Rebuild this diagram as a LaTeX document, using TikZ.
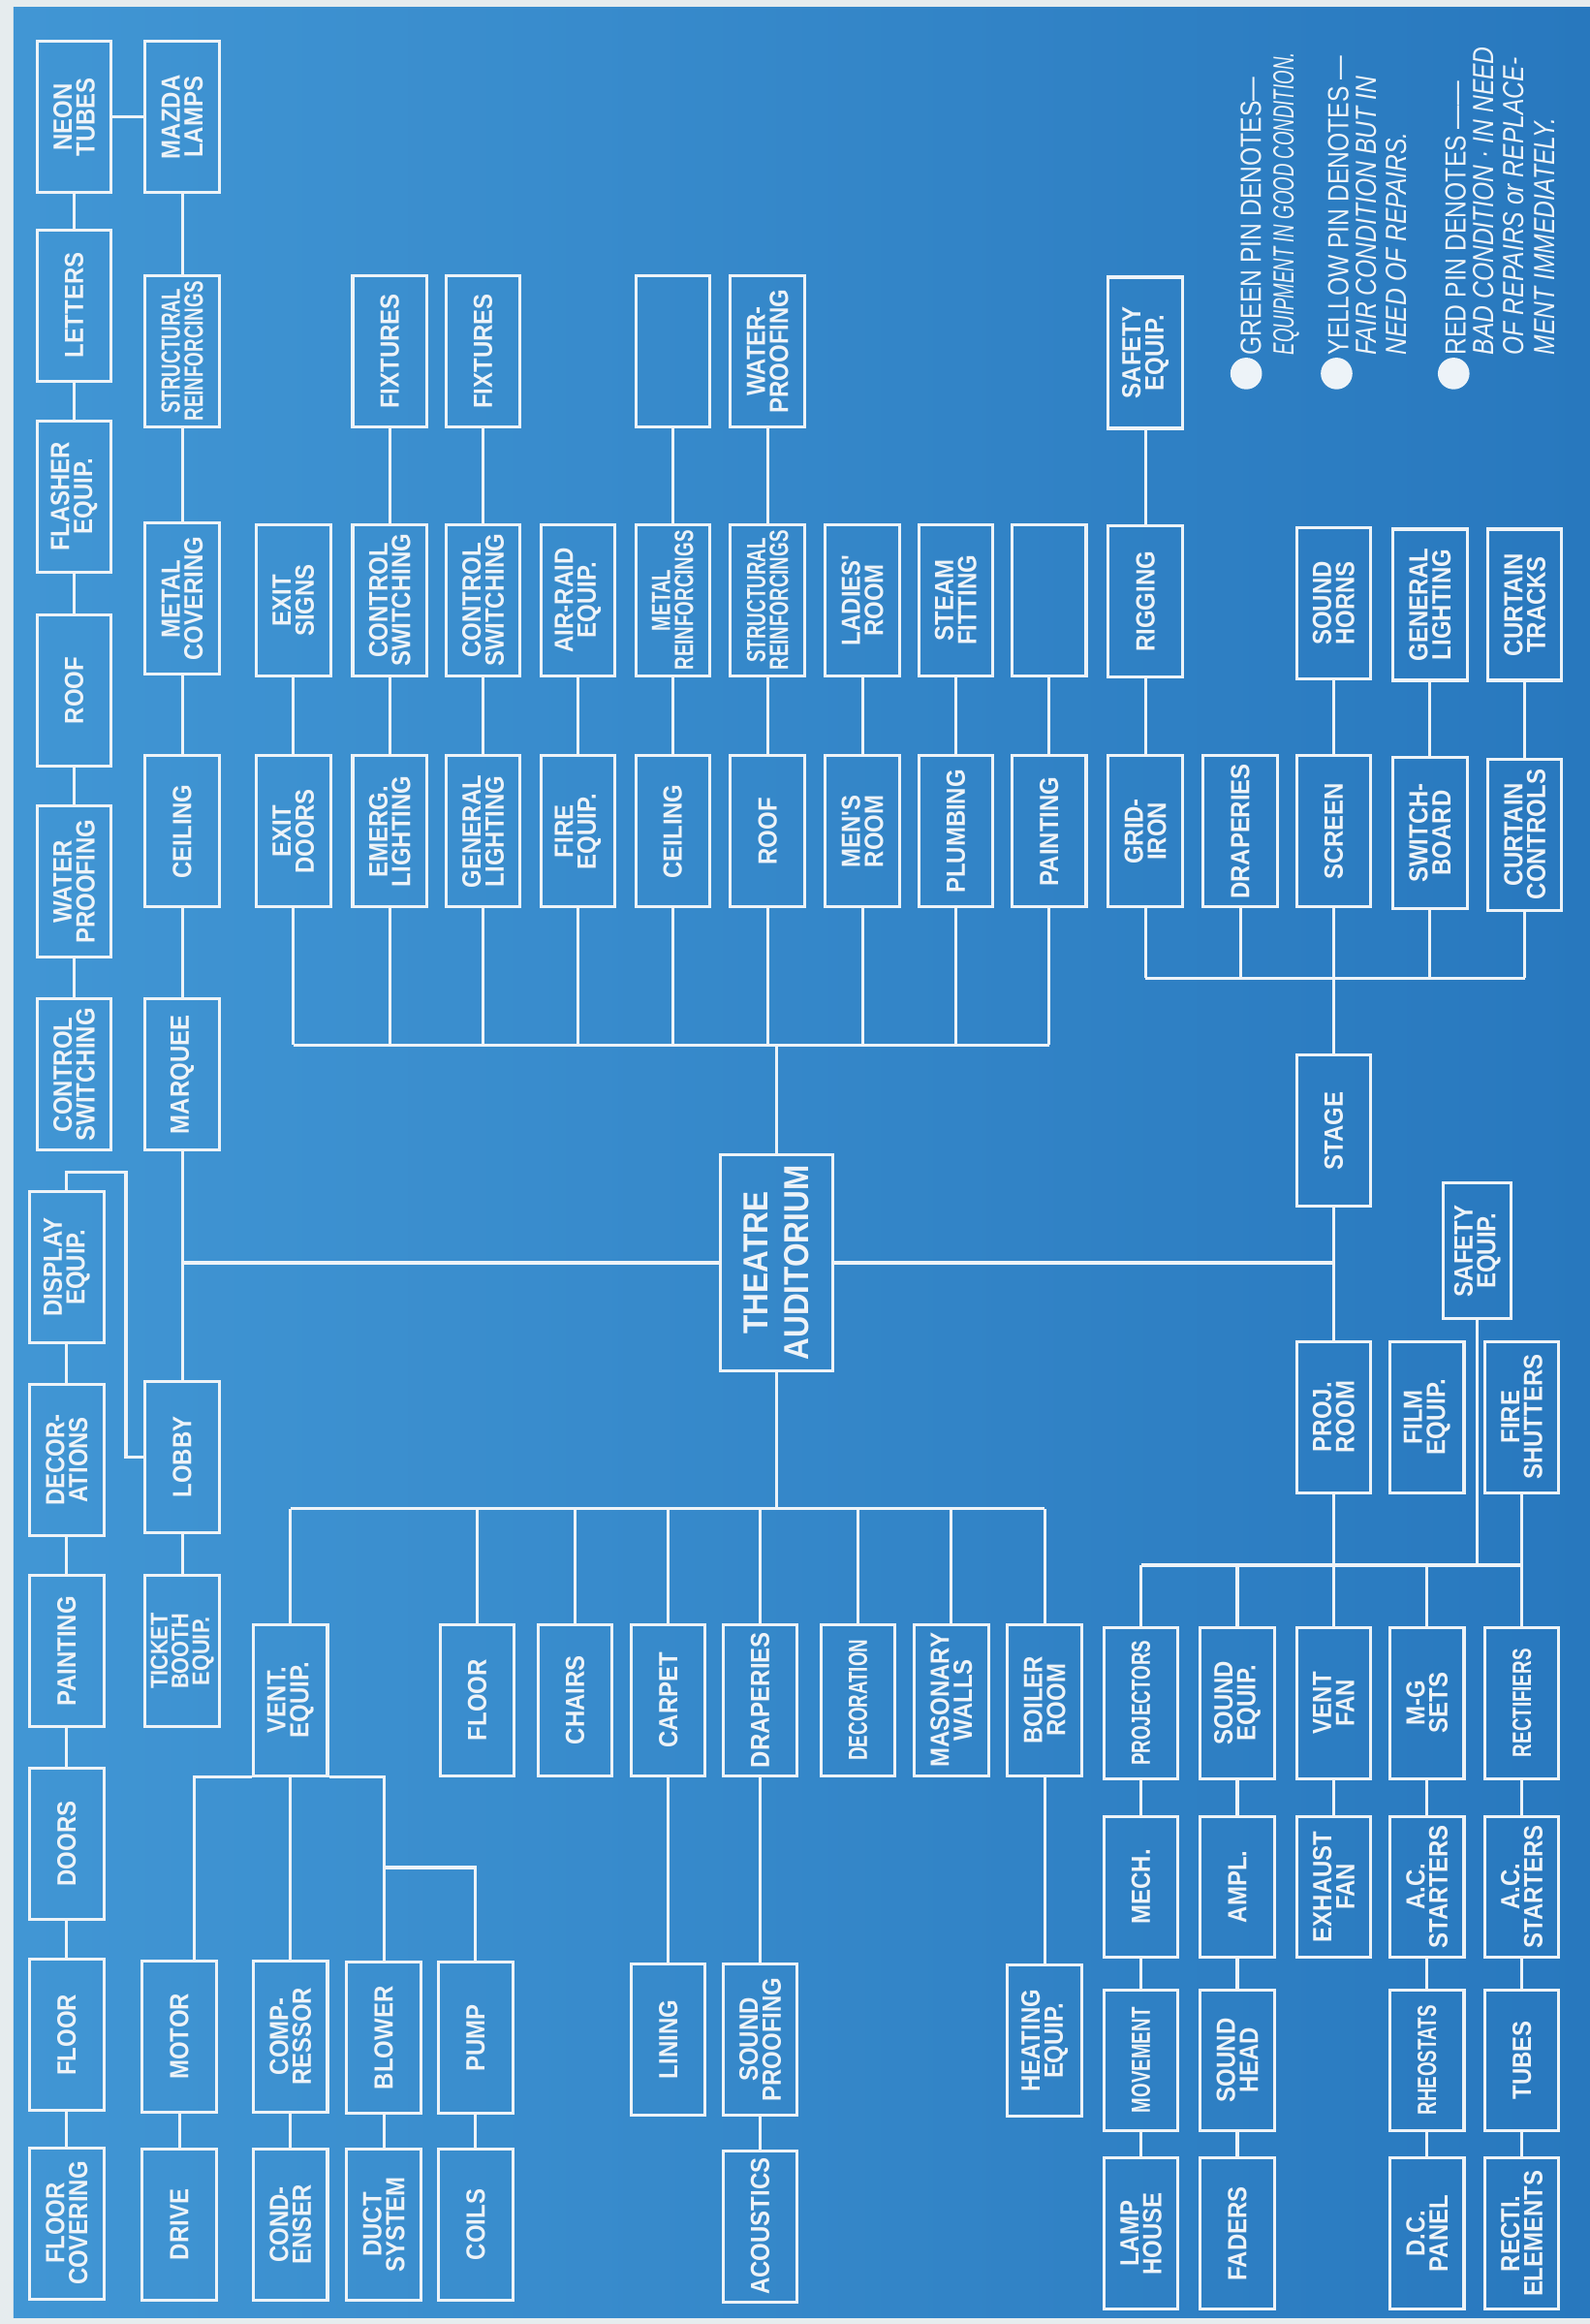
\documentclass[tikz,border=0pt]{standalone}
\usepackage{fontspec}
\usetikzlibrary{calc}
\newfontfamily\boxfont[FakeStretch=0.88]{Liberation Sans}
\newfontfamily\narrowfont[FakeStretch=0.69]{Liberation Sans}
\newfontfamily\notefont[FakeStretch=0.82]{Liberation Sans}
\newfontfamily\squeezefont[FakeStretch=0.62]{Liberation Sans}
\definecolor{ink}{HTML}{EDF3F8}
\definecolor{bgleft}{HTML}{4196D4}
\definecolor{bgright}{HTML}{2878BE}
\definecolor{paper}{HTML}{E6ECEE}
\begin{document}
\begin{tikzpicture}[x=0.015cm, y=-0.015cm,
    block/.style={draw=ink, line width=0.85pt, rotate=90, minimum width=1.53cm, minimum height=0.75cm, inner sep=1pt, align=center, text=ink, font=\boxfont\bfseries\fontsize{7.6}{6.6}\selectfont},
    narrow/.style={font=\narrowfont\bfseries\fontsize{7.6}{6.6}\selectfont},
    shortbox/.style={minimum width=1.42cm},
    hub/.style={block, minimum width=2.18cm, minimum height=1.14cm, font=\boxfont\bfseries\fontsize{10}{11.5}\selectfont},
    link/.style={draw=ink, line width=0.85pt},
    pindot/.style={circle, fill=ink, inner sep=0pt, minimum size=0.32cm},
    notetext/.style={rotate=90, anchor=base west, inner sep=0pt, text=ink, font=\notefont\fontsize{8.4}{9}\selectfont},
    notesub/.style={notetext, font=\notefont\itshape\fontsize{8.4}{9}\selectfont}]
    \useasboundingbox (0,0) rectangle (1073,1568);
    \fill[paper] (0,0) rectangle (1073,1568);
    \shade[left color=bgleft, right color=bgright] (9,5) rectangle (1073,1564);

    \node [block] (neon) at (50,79) {NEON\\TUBES};
    \node [block] (letters) at (50,206) {LETTERS};
    \node [block] (flasher) at (50,335) {FLASHER\\EQUIP.};
    \node [block] (roofM) at (50,466) {ROOF};
    \node [block] (waterM) at (50,595) {WATER\\PROOFING};
    \node [block] (switchM) at (50,725) {CONTROL\\SWITCHING};
    \node [block] (display) at (45,855) {DISPLAY\\EQUIP.};
    \node [block] (decor) at (45,985) {DECOR-\\ATIONS};
    \node [block] (paintL) at (45,1114) {PAINTING};
    \node [block] (doors) at (45,1244) {DOORS};
    \node [block] (floorL) at (45,1373) {FLOOR};
    \node [block] (floorcov) at (45,1500) {FLOOR\\COVERING};

    \node [block] (mazda) at (123,79) {MAZDA\\LAMPS};
    \node [block, narrow] (structM) at (123,237) {STRUCTURAL\\REINFORCINGS};
    \node [block] (metalcov) at (123,404) {METAL\\COVERING};
    \node [block] (ceilM) at (123,561) {CEILING};
    \node [block] (marquee) at (123,725) {MARQUEE};
    \node [block] (lobby) at (123,983) {LOBBY};
    \node [block, font=\boxfont\bfseries\fontsize{6.9}{6}\selectfont] (ticket) at (123,1114) {TICKET\\BOOTH\\EQUIP.};
    \node [block] (motor) at (121,1374) {MOTOR};
    \node [block] (drive) at (121,1501) {DRIVE};

    \node [block] (exitsigns) at (198,405) {EXIT\\SIGNS};
    \node [block] (exitdoors) at (198,561) {EXIT\\DOORS};
    \node [block] (vent) at (196,1147) {VENT.\\EQUIP.};
    \node [block] (comp) at (196,1374) {COMP-\\RESSOR};
    \node [block] (cond) at (196,1501) {COND-\\ENSER};

    \node [block] (fixA) at (263,237) {FIXTURES};
    \node [block] (switchA) at (263,405) {CONTROL\\SWITCHING};
    \node [block] (emerg) at (263,561) {EMERG.\\LIGHTING};
    \node [block] (blower) at (259,1375) {BLOWER};
    \node [block] (duct) at (259,1501) {DUCT\\SYSTEM};

    \node [block] (fixB) at (326,237) {FIXTURES};
    \node [block] (switchB) at (326,405) {CONTROL\\SWITCHING};
    \node [block] (genlight) at (326,561) {GENERAL\\LIGHTING};
    \node [block] (floorA) at (322,1147) {FLOOR};
    \node [block] (pump) at (321,1375) {PUMP};
    \node [block] (coils) at (321,1501) {COILS};

    \node [block] (airraid) at (390,405) {AIR-RAID\\EQUIP.};
    \node [block] (fireeq) at (390,561) {FIRE\\EQUIP.};
    \node [block] (chairs) at (388,1147) {CHAIRS};

    \node [block] (blankA) at (454,237) {};
    \node [block, narrow] (metalre) at (454,405) {METAL\\REINFORCINGS};
    \node [block] (ceilA) at (454,561) {CEILING};
    \node [block] (carpet) at (451,1147) {CARPET};
    \node [block] (lining) at (451,1376) {LINING};

    \node [block] (waterA) at (518,237) {WATER-\\PROOFING};
    \node [block, narrow] (structA) at (518,405) {STRUCTURAL\\REINFORCINGS};
    \node [block] (roofA) at (518,561) {ROOF};
    \node [hub] (aud) at (524,852) {THEATRE\\AUDITORIUM};
    \node [block] (drapA) at (513,1147) {DRAPERIES};
    \node [block] (soundpr) at (513,1376) {SOUND\\PROOFING};
    \node [block] (acoustics) at (513,1502) {ACOUSTICS};

    \node [block] (ladies) at (582,405) {LADIES'\\ROOM};
    \node [block] (mens) at (582,561) {MEN'S\\ROOM};
    \node [block, narrow] (decoration) at (579,1147) {DECORATION};

    \node [block] (steam) at (645,405) {STEAM\\FITTING};
    \node [block] (plumbing) at (645,561) {PLUMBING};
    \node [block] (masonry) at (642,1147) {MASONARY\\WALLS};

    \node [block] (blankB) at (708,405) {};
    \node [block] (paintA) at (708,561) {PAINTING};
    \node [block] (boiler) at (705,1147) {BOILER\\ROOM};
    \node [block] (heating) at (705,1377) {HEATING\\EQUIP.};

    \node [block] (safetyA) at (773,238) {SAFETY\\EQUIP.};
    \node [block] (rigging) at (773,406) {RIGGING};
    \node [block] (gridiron) at (773,561) {GRID-\\IRON};
    \node [block] (drapB) at (837,561) {DRAPERIES};
    \node [block] (horns) at (900,407) {SOUND\\HORNS};
    \node [block] (screen) at (900,561) {SCREEN};
    \node [block] (stage) at (900,763) {STAGE};
    \node [block] (genlightB) at (965,408) {GENERAL\\LIGHTING};
    \node [block] (switchbd) at (965,562) {SWITCH-\\BOARD};
    \node [block] (tracks) at (1029,408) {CURTAIN\\TRACKS};
    \node [block] (curtainctl) at (1029,563) {CURTAIN\\CONTROLS};

    \node [block, minimum width=1.37cm, minimum height=0.69cm] (safetyB) at (997,844) {SAFETY\\EQUIP.};
    \node [block] (projroom) at (900,956) {PROJ.\\ROOM};
    \node [block] (film) at (963,956) {FILM\\EQUIP.};
    \node [block] (fireshut) at (1027,956) {FIRE\\SHUTTERS};
    \node [block, narrow] (projectors) at (770,1149) {PROJECTORS};
    \node [block, shortbox] (mech) at (770,1273) {MECH.};
    \node [block, shortbox, narrow] (movement) at (770,1390) {MOVEMENT};
    \node [block] (lamphouse) at (770,1507) {LAMP\\HOUSE};
    \node [block] (soundeq) at (835,1149) {SOUND\\EQUIP.};
    \node [block, shortbox] (ampl) at (835,1273) {AMPL.};
    \node [block, shortbox] (soundhead) at (835,1390) {SOUND\\HEAD};
    \node [block] (faders) at (835,1507) {FADERS};
    \node [block] (ventfan) at (900,1149) {VENT\\FAN};
    \node [block, shortbox] (exhaust) at (900,1273) {EXHAUST\\FAN};
    \node [block] (mgsets) at (963,1149) {M-G\\SETS};
    \node [block, shortbox] (acstartA) at (963,1273) {A.C.\\STARTERS};
    \node [block, shortbox, narrow] (rheostats) at (963,1390) {RHEOSTATS};
    \node [block] (dcpanel) at (963,1507) {D.C.\\PANEL};
    \node [block, narrow] (rectifiers) at (1027,1149) {RECTIFIERS};
    \node [block, shortbox] (acstartB) at (1027,1273) {A.C.\\STARTERS};
    \node [block, shortbox] (tubes) at (1027,1390) {TUBES};
    \node [block] (rectel) at (1027,1507) {RECTI.\\ELEMENTS};

    \node [pindot] (gpin) at (841,252) {};
    \node [notetext] (gline) at (851,240) {GREEN PIN DENOTES—};
    \node [notesub, font=\squeezefont\itshape\fontsize{8.4}{9}\selectfont] (gnote) at (873,240) {EQUIPMENT IN GOOD CONDITION.};
    \node [pindot] (ypin) at (902,252) {};
    \node [notetext] (yline) at (910,240) {YELLOW PIN DENOTES —};
    \node [notesub] (ynoteA) at (929,240) {FAIR CONDITION BUT IN};
    \node [notesub] (ynoteB) at (949,240) {NEED OF REPAIRS.};
    \node [pindot] (rpin) at (981,252) {};
    \node [notetext] (rline) at (989,240) {RED PIN DENOTES ——};
    \node [notesub] (rnoteA) at (1008,240) {BAD CONDITION · IN NEED};
    \node [notesub] (rnoteB) at (1028,240) {OF REPAIRS or REPLACE-};
    \node [notesub] (rnoteC) at (1049,240) {MENT IMMEDIATELY.};

    \coordinate (lobbytap) at (85,791);
    \coordinate (topbus) at (524,705);
    \coordinate (lowbus) at (524,1018);
    \coordinate (stagebus) at (900,660);
    \coordinate (projbus) at (900,1056);
    \coordinate (pumptap) at (259,1260);

    \draw [link] (neon) -- (letters) -- (flasher) -- (roofM) -- (waterM) -- (switchM);
    \draw [link] (neon) -- (mazda);
    \draw [link] (display) -- (decor) -- (paintL) -- (doors) -- (floorL) -- (floorcov);
    \draw [link] (display.east) |- (lobbytap) |- (lobby);
    \draw [link] (mazda) -- (structM) -- (metalcov) -- (ceilM) -- (marquee) -- (lobby) -- (ticket);
    \draw [link] (motor) -- (drive);

    \draw [link] (aud) -- (marquee |- aud);
    \draw [link] (aud) -- (stage |- aud);
    \draw [link] (aud) -- (aud |- topbus);
    \draw [link] (exitdoors |- topbus) -- (paintA |- topbus);
    \foreach \n in {exitdoors, emerg, genlight, fireeq, ceilA, roofA, mens, plumbing, paintA}
        \draw [link] (\n) -- (\n |- topbus);
    \draw [link] (exitdoors) -- (exitsigns);
    \draw [link] (emerg) -- (switchA) -- (fixA);
    \draw [link] (genlight) -- (switchB) -- (fixB);
    \draw [link] (fireeq) -- (airraid);
    \draw [link] (ceilA) -- (metalre) -- (blankA);
    \draw [link] (roofA) -- (structA) -- (waterA);
    \draw [link] (mens) -- (ladies);
    \draw [link] (plumbing) -- (steam);
    \draw [link] (paintA) -- (blankB);

    \draw [link] (aud) -- (aud |- lowbus);
    \draw [link] (vent |- lowbus) -- (boiler |- lowbus);
    \foreach \n in {vent, floorA, chairs, carpet, drapA, decoration, masonry, boiler}
        \draw [link] (\n) -- (\n |- lowbus);
    \draw [link] (carpet) -- (lining);
    \draw [link] (drapA) -- (soundpr) -- (acoustics);
    \draw [link] (boiler) -- (heating);
    \draw [link] (vent) -- (comp) -- (cond);
    \draw [link] (vent.north west) -| ($(motor.east)+(10,0)$);
    \draw [link] (vent.south west) -| (blower);
    \draw [link] (pumptap) -| (pump);
    \draw [link] (blower) -- (duct);
    \draw [link] (pump) -- (coils);

    \draw [link] (stage) -- (stage |- stagebus);
    \draw [link] (gridiron |- stagebus) -- (curtainctl |- stagebus);
    \foreach \n in {gridiron, drapB, screen, switchbd, curtainctl}
        \draw [link] (\n) -- (\n |- stagebus);
    \draw [link] (gridiron) -- (rigging) -- (safetyA);
    \draw [link] (screen) -- (horns);
    \draw [link] (switchbd) -- (genlightB);
    \draw [link] (curtainctl) -- (tracks);

    \draw [link] (stage) -- (projroom);
    \draw [link] (projroom) -- (ventfan);
    \draw [link] (projectors |- projbus) -- (rectifiers |- projbus);
    \foreach \n in {projectors, soundeq, mgsets}
        \draw [link] (\n) -- (\n |- projbus);
    \draw [link] (safetyB) -- (safetyB |- projbus);
    \draw [link] (fireshut) -- (rectifiers);
    \draw [link] (projectors) -- (mech) -- (movement) -- (lamphouse);
    \draw [link] (soundeq) -- (ampl) -- (soundhead) -- (faders);
    \draw [link] (ventfan) -- (exhaust);
    \draw [link] (mgsets) -- (acstartA) -- (rheostats) -- (dcpanel);
    \draw [link] (rectifiers) -- (acstartB) -- (tubes) -- (rectel);
\end{tikzpicture}
\end{document}
